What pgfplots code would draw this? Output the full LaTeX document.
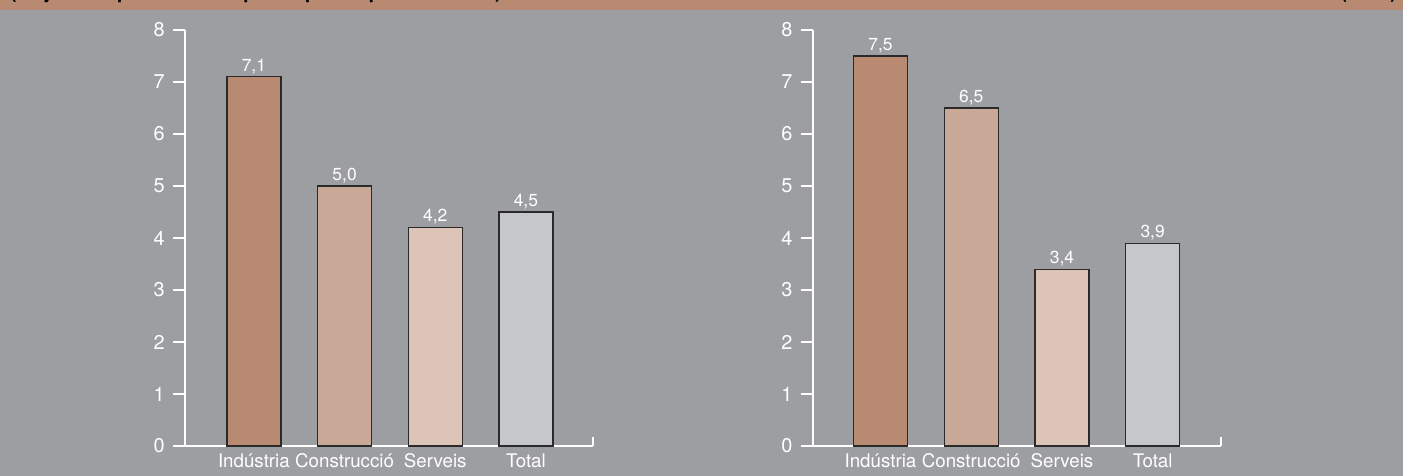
\documentclass[border=0pt]{standalone}
\usepackage{fontspec}
\setmainfont{TeX Gyre Heros}
\usepackage{pgfplots}
\pgfplotsset{compat=1.18}

\definecolor{fons}{HTML}{9D9EA2}
\definecolor{banda}{HTML}{B98A72}
\definecolor{indus}{HTML}{B98A72}
\definecolor{constr}{HTML}{C9A898}
\definecolor{serv}{HTML}{DCC5B7}
\definecolor{total}{HTML}{C6C7C9}
\definecolor{vora}{HTML}{2A2A2A}

\pgfplotsset{
  barres/.style={
    scale only axis, width=408bp, height=416bp,
    anchor=south west, clip=false,
    ymin=0, ymax=8, ytick={0,1,...,8},
    xtick={0,1,2,3},
    xticklabels={Indústria,Construcció,Serveis,Total},
    axis lines=left,
    axis line style={-, white, line width=2bp},
    tick align=outside,
    major tick length=12bp,
    ytick style={white, line width=2bp},
    xtick style={draw=none},
    tick label style={white},
    yticklabel style={font=\fontsize{20}{20}\selectfont, anchor=east, inner sep=0pt, xshift=-8bp},
    xticklabel style={font=\fontsize{18.8}{18.8}\selectfont, anchor=base, inner sep=0pt, text depth=0pt, yshift=-9bp},
    /pgf/number format/assume math mode=true,
    /pgf/number format/use comma,
    /pgf/number format/fixed,
    ybar, bar width=54bp, bar shift=0pt,
    nodes near coords={\pgfmathprintnumber[fixed, fixed zerofill, precision=1, use comma]{\pgfplotspointmeta}},
    every node near coord/.append style={white, font=\fontsize{17.5}{17.5}\selectfont,
      text depth=0pt, inner sep=0pt, anchor=south, yshift=5bp},
    every axis plot/.append style={draw=vora, line width=1.2bp},
  }
}

\begin{document}
\begin{tikzpicture}
\useasboundingbox (0,0) rectangle (1403bp,476bp);
\fill[fons] (0,0) rectangle (1403bp,476bp);
\fill[banda] (0,466bp) rectangle (1403bp,476bp);
\begin{scope}
  \clip (0,466bp) rectangle (1403bp,476bp);
  \node[anchor=base west, inner sep=0pt, font=\bfseries\fontsize{19.5}{19.5}\selectfont]
    at (10bp,477.5bp) {(Mitjana de persones ocupades per empresa i sector)};
  \node[anchor=base east, inner sep=0pt, font=\bfseries\fontsize{19.5}{19.5}\selectfont]
    at (1397bp,477.5bp) {(2010)};
\end{scope}

% Primer gràfic
\begin{axis}[barres, at={(185bp,30bp)}, xmin=-0.76, xmax=3.74]
  \addplot[fill=indus]  coordinates {(0,7.1)};
  \addplot[fill=constr] coordinates {(1,5.0)};
  \addplot[fill=serv]   coordinates {(2,4.2)};
  \addplot[fill=total]  coordinates {(3,4.5)};
  \draw[white, line width=2bp] (rel axis cs:1,0) -- ([yshift=9bp]rel axis cs:1,0);
\end{axis}

% Segon gràfic
\begin{axis}[barres, at={(812.7bp,30bp)}, xmin=-0.747, xmax=3.75]
  \addplot[fill=indus]  coordinates {(0,7.5)};
  \addplot[fill=constr] coordinates {(1,6.5)};
  \addplot[fill=serv]   coordinates {(2,3.4)};
  \addplot[fill=total]  coordinates {(3,3.9)};
  \draw[white, line width=2bp] (rel axis cs:1,0) -- ([yshift=9bp]rel axis cs:1,0);
\end{axis}
\end{tikzpicture}
\end{document}
